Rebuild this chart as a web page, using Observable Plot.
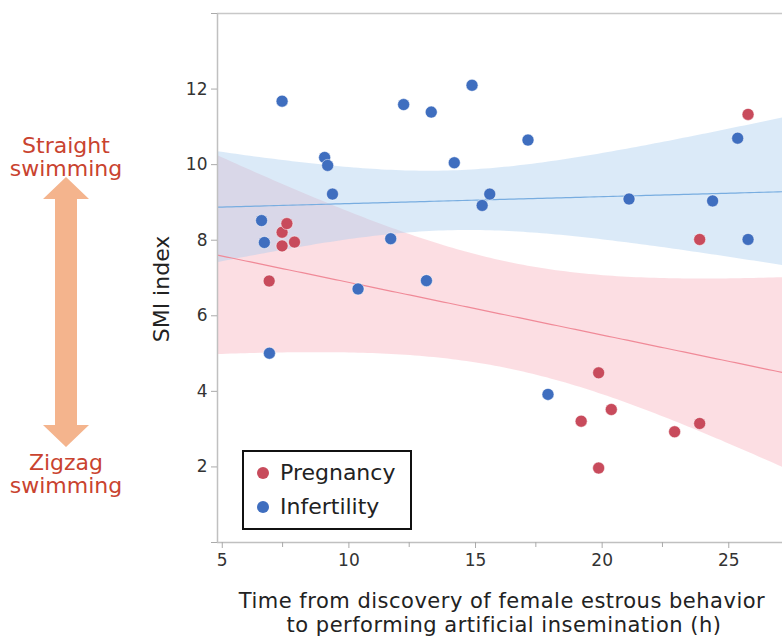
<!DOCTYPE html>
<html>
<head>
<meta charset="utf-8">
<script src="https://cdn.jsdelivr.net/npm/d3@7"></script>
<script src="https://cdn.jsdelivr.net/npm/@observablehq/plot@0.6"></script>
<style>
  body { margin: 0; background: #fff; }
  #wrap { position: relative; width: 782px; height: 636px; font-family: "DejaVu Sans", sans-serif; overflow: hidden; }
  #wrap svg.plot { position: absolute; left: 0; top: 0; }
  .ov { position: absolute; white-space: nowrap; line-height: 1; }
  .note { color: #c9432f; font-size: 22px; text-align: center; width: 140px; left: -4px; }
  .title { color: #222; font-size: 22px; }
  .xt { font-size: 21px; letter-spacing: 0.5px; }
  #legend { position: absolute; left: 242px; top: 450px; width: 166px; height: 76px; border: 2px solid #111; background: #fff; }
  .li { position: absolute; left: 36px; font-size: 22px; color: #222; line-height: 1; }
  .sw { position: absolute; left: 13px; width: 12px; height: 12px; border-radius: 50%; }
</style>
</head>
<body>
<div id="wrap"></div>
<script>
// ---- data ----
const groups = ["Pregnancy", "Infertility"];
const groupColors = ["#c84b5c", "#3f6ebf"];

const pregnancyX = [6.97, 7.48, 7.48, 7.67, 7.97, 19.29, 19.98, 19.98, 20.48, 22.98, 23.97, 23.97, 25.88];
const pregnancyY = [6.92, 7.85, 8.21, 8.44, 7.95, 3.21, 4.49, 1.97, 3.52, 2.93, 3.15, 8.02, 11.33];

const infertilityX = [6.67, 6.78, 6.98, 7.48, 9.16, 9.28, 9.47, 10.48, 11.77, 12.28, 13.18, 13.37, 14.28, 14.98, 15.38, 15.68, 17.19, 17.98, 21.18, 24.48, 25.47, 25.88];
const infertilityY = [8.52, 7.94, 5.01, 11.68, 10.19, 9.98, 9.22, 6.71, 8.04, 11.59, 6.93, 11.39, 10.05, 12.10, 8.92, 9.22, 10.65, 3.92, 9.09, 9.04, 10.70, 8.02];

const xDomain = [4.93, 27.24];
const yDomain = [0, 14];
const xTicks = [5, 10, 15, 20, 25];
const xMinorTicks = [7.5, 12.5, 17.5, 22.5];
const yTicks = [0, 2, 4, 6, 8, 10, 12, 14];
const yLabelled = [2, 4, 6, 8, 10, 12];

// two-sided 90% t critical values by degrees of freedom
const tCrit = {11: 1.796, 20: 1.725};

const xLabel1 = "Time from discovery of female estrous behavior";
const xLabel2 = "to performing artificial insemination (h)";
const yLabel = "SMI index";
const topNote = ["Straight", "swimming"];
const bottomNote = ["Zigzag", "swimming"];

// ---- linear fit with confidence band of the mean ----
function fitBand(xs, ys) {
  const n = xs.length;
  const mx = d3.mean(xs), my = d3.mean(ys);
  const sxx = d3.sum(xs, x => (x - mx) ** 2);
  const sxy = d3.sum(xs.map((x, i) => (x - mx) * (ys[i] - my)));
  const b = sxy / sxx, a = my - b * mx;
  const sse = d3.sum(xs.map((x, i) => (ys[i] - a - b * x) ** 2));
  const s = Math.sqrt(sse / (n - 2));
  const t = tCrit[n - 2];
  return d3.range(0, 121).map(i => {
    const x = xDomain[0] + (xDomain[1] - xDomain[0]) * i / 120;
    const yh = a + b * x;
    const se = s * Math.sqrt(1 / n + (x - mx) ** 2 / sxx);
    return {x, y: yh, lo: yh - t * se, hi: yh + t * se};
  });
}

const pregData = pregnancyX.map((x, i) => ({x, y: pregnancyY[i]}));
const infData = infertilityX.map((x, i) => ({x, y: infertilityY[i]}));
const pregFit = fitBand(pregnancyX, pregnancyY);
const infFit = fitBand(infertilityX, infertilityY);

const chart = Plot.plot({
  width: 782,
  height: 636,
  marginLeft: 217,
  marginRight: 0,
  marginTop: 13,
  marginBottom: 94,
  style: {fontFamily: "DejaVu Sans, sans-serif", background: "transparent"},
  x: {domain: xDomain},
  y: {domain: yDomain},
  marks: [
    Plot.areaY(pregFit, {x: "x", y1: "lo", y2: "hi", fill: "#f59aaa", fillOpacity: 0.33, clip: true}),
    Plot.areaY(infFit, {x: "x", y1: "lo", y2: "hi", fill: "#a9cdee", fillOpacity: 0.42, clip: true}),
    Plot.line(pregFit, {x: "x", y: "y", stroke: "#f08a98", strokeWidth: 1.2, clip: true}),
    Plot.line(infFit, {x: "x", y: "y", stroke: "#78ade0", strokeWidth: 1.2, clip: true}),
    Plot.dot(infData, {x: "x", y: "y", r: 6, fill: groupColors[1], stroke: "#fff", strokeWidth: 0.5}),
    Plot.dot(pregData, {x: "x", y: "y", r: 6, fill: groupColors[0], stroke: "#fff", strokeWidth: 0.5}),
    Plot.ruleY([yDomain[1]], {stroke: "#c8c8c8", strokeWidth: 1.5}),
    Plot.ruleX([xDomain[0]], {stroke: "#c0c0c0", strokeWidth: 1.5}),
    Plot.ruleY([yDomain[0]], {stroke: "#c0c0c0", strokeWidth: 1.5}),
    Plot.axisY(yTicks, {anchor: "left", tickSize: 6, tickPadding: 4, fontSize: 17, stroke: "#aaa", fill: "#333",
      tickFormat: d => yLabelled.includes(d) ? String(d) : "", label: null}),
    Plot.axisX(xTicks, {anchor: "bottom", tickSize: 6, tickPadding: 5, fontSize: 17, stroke: "#aaa", fill: "#333",
      dx: 3, label: null}),
    Plot.axisX(xMinorTicks, {anchor: "bottom", tickSize: 5, stroke: "#aaa", tickFormat: () => "", label: null})
  ]
});
chart.classList.add("plot");

const wrap = document.getElementById("wrap");
wrap.appendChild(chart);

// left annotation: arrow + notes
const ns = "http://www.w3.org/2000/svg";
const arrowSvg = document.createElementNS(ns, "svg");
arrowSvg.setAttribute("width", 140);
arrowSvg.setAttribute("height", 636);
arrowSvg.style.position = "absolute";
arrowSvg.style.left = "0px";
arrowSvg.style.top = "0px";
const poly = document.createElementNS(ns, "polygon");
poly.setAttribute("points", "66,177 89,199 77,199 77,425 89,425 66,447 43,425 55,425 55,199 43,199");
poly.setAttribute("fill", "#f4b48d");
arrowSvg.appendChild(poly);
wrap.appendChild(arrowSvg);

function addDiv(cls, text, style) {
  const d = document.createElement("div");
  d.className = "ov " + cls;
  d.textContent = text;
  Object.assign(d.style, style);
  wrap.appendChild(d);
  return d;
}
topNote.forEach((t, i) => addDiv("note", t, {top: (135 + i * 23) + "px"}));
bottomNote.forEach((t, i) => addDiv("note", t, {top: (452 + i * 23) + "px"}));

// y title
addDiv("title", yLabel, {left: "162px", top: "289px", transform: "translate(-50%,-50%) rotate(-90deg)"});
// x title (two lines)
addDiv("title xt", xLabel1, {left: "502px", top: "591px", transform: "translateX(-50%)"});
addDiv("title xt", xLabel2, {left: "504px", top: "615px", transform: "translateX(-50%)"});

// legend
const lg = document.createElement("div");
lg.id = "legend";
groups.forEach((g, i) => {
  const sw = document.createElement("div");
  sw.className = "sw";
  sw.style.background = groupColors[i];
  sw.style.top = (15 + i * 34) + "px";
  lg.appendChild(sw);
  const t = document.createElement("div");
  t.className = "li";
  t.textContent = g;
  t.style.top = (10 + i * 34) + "px";
  lg.appendChild(t);
});
wrap.appendChild(lg);
</script>
</body>
</html>
